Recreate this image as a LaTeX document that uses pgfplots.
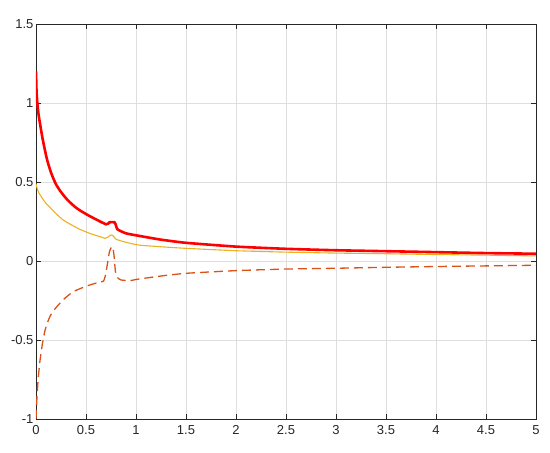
\documentclass[border=0pt]{standalone}
\usepackage{pgfplots}
\pgfplotsset{compat=1.18}
\usepackage{fontspec}
\setmainfont{Liberation Sans}
\definecolor{myyellow}{rgb}{0.929,0.694,0.125}
\definecolor{myorange}{rgb}{0.851,0.325,0.098}
\definecolor{axgray}{rgb}{0.15,0.15,0.15}
\begin{document}
\begin{tikzpicture}
\begin{axis}[
  scale only axis,
  width=500pt, height=395pt,
  xmin=0, xmax=5, ymin=-1, ymax=1.5,
  xtick={0,0.5,...,5},
  ytick={-1,-0.5,0,0.5,1,1.5},
  xticklabels={0,0.5,1,1.5,2,2.5,3,3.5,4,4.5,5},
  yticklabels={-1,-0.5,0,0.5,1,1.5},
  grid=major,
  major grid style={draw=black!13, line width=0.7pt},
  axis line style={draw=axgray, line width=0.8pt},
  tick style={draw=axgray, line width=0.7pt},
  tick align=inside,
  major tick length=5pt,
  /pgf/number format/assume math mode=true,
  tick label style={font=\fontsize{13}{15}\selectfont, text=axgray},
  xticklabel style={yshift=-3pt},
  yticklabel style={xshift=1pt},
  clip=true,
]
\addplot[myorange, line width=1.3pt, dash pattern=on 9pt off 5pt, smooth, tension=0.3] coordinates {
(0,-1.0) (0.005,-0.92) (0.01,-0.86) (0.02,-0.76) (0.03,-0.69) (0.04,-0.63) (0.065,-0.52) (0.09,-0.44)
(0.115,-0.39) (0.14,-0.35) (0.175,-0.315) (0.207,-0.29) (0.25,-0.26) (0.29,-0.235) (0.373,-0.194) (0.5,-0.16) (0.6,-0.14)
(0.673,-0.128) (0.695,-0.09) (0.715,-0.015) (0.735,0.06) (0.755,0.088) (0.768,0.09)
(0.78,0.035) (0.795,-0.07) (0.815,-0.105) (0.85,-0.12) (0.94,-0.125) (1.0,-0.117)
(1.25,-0.095) (1.5,-0.078) (2,-0.061) (2.5,-0.051) (3,-0.046) (3.5,-0.04) (4,-0.035)
(4.5,-0.031) (5,-0.027)
};
\addplot[myyellow, line width=1.1pt, smooth, tension=0.3] coordinates {
(0,0.49) (0.015,0.45) (0.03,0.43) (0.07,0.39) (0.1,0.365) (0.14,0.34) (0.2,0.30) (0.27,0.26)
(0.35,0.23) (0.44,0.20) (0.55,0.172) (0.66,0.15) (0.69,0.143) (0.72,0.152) (0.75,0.165)
(0.77,0.16) (0.8,0.138) (0.85,0.127) (0.94,0.112) (1.04,0.10) (1.25,0.09) (1.5,0.08)
(2,0.065) (2.5,0.056) (3,0.05) (3.5,0.046) (4,0.041) (4.5,0.037) (5,0.032)
};
\addplot[red, line width=2.6pt, smooth, tension=0.3] coordinates {
(0,1.2) (0.005,1.08) (0.013,1.0) (0.025,0.93) (0.04,0.87) (0.067,0.77) (0.1,0.67)
(0.12,0.62) (0.15,0.56) (0.175,0.52) (0.2,0.485) (0.235,0.45) (0.27,0.42) (0.31,0.39) (0.35,0.365) (0.395,0.34) (0.44,0.32) (0.52,0.29) (0.61,0.26)
(0.7,0.232) (0.72,0.236) (0.735,0.245) (0.785,0.245) (0.8,0.225) (0.815,0.2)
(0.9,0.175) (1.04,0.158) (1.25,0.135) (1.5,0.115) (2,0.091) (2.5,0.077) (3,0.068)
(3.5,0.062) (4,0.056) (4.5,0.05) (5,0.046)
};
\end{axis}
\path (current axis.south west) ++(-36pt,-34pt) coordinate (bl);
\path (current axis.north east) ++(14pt,24pt) coordinate (tr);
\path (bl) rectangle (tr);
\end{tikzpicture}
\end{document}
